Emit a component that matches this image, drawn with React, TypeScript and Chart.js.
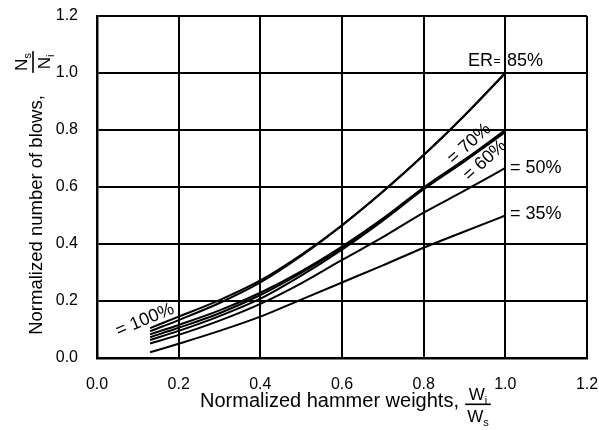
import React, { useEffect, useRef } from "react";
import { Chart, registerables } from "chart.js";

Chart.register(...registerables);

// ---- data ----
const xValues = [0.13, 0.2, 0.3, 0.4, 0.5, 0.6, 0.7, 0.8, 0.9, 1.0];
const er100 = [0.105, 0.145, 0.203, 0.272, 0.362, 0.466, 0.584, 0.712, 0.851, 1.0];
const er85 = [0.094, 0.133, 0.193, 0.265, 0.358, 0.465, 0.583, 0.712, 0.851, 1.0];
const er70 = [0.083, 0.116, 0.167, 0.229, 0.304, 0.391, 0.489, 0.598, 0.696, 0.8];
const er60 = [0.073, 0.106, 0.157, 0.221, 0.299, 0.386, 0.486, 0.595, 0.693, 0.796];
const er60b = [0.063, 0.095, 0.147, 0.208, 0.289, 0.38, 0.482, 0.592, 0.69, 0.792];
const er50 = [0.051, 0.081, 0.131, 0.19, 0.262, 0.344, 0.424, 0.51, 0.587, 0.667];
const er35 = [0.02, 0.05, 0.095, 0.145, 0.205, 0.265, 0.325, 0.387, 0.444, 0.5];
const seriesNames = ["100%", "85%", "70%", "60%", "60% (b)", "50%", "35%"];
const seriesValues = [er100, er85, er70, er60, er60b, er50, er35];
const xTickLabels = ["0.0", "0.2", "0.4", "0.6", "0.8", "1.0", "1.2"];
const yTickLabels = ["0.0", "0.2", "0.4", "0.6", "0.8", "1.0", "1.2"];

// curve labels (anchor in data units)
const curveLabels = [
  { text: "= 100%", x: 0.1176, y: 0.1333, angle: -22.6, align: "center" },
  { text: "= 70%", x: 0.9115, y: 0.7516, angle: -42, align: "center" },
  { text: "= 60%", x: 0.9502, y: 0.693, angle: -42, align: "center" },
  { text: "= 50%", x: 1.0114, y: 0.6667, angle: 0, align: "left" },
  { text: "= 35%", x: 1.0114, y: 0.505, angle: 0, align: "left" },
];
const erLabel = { er: "ER", eq: "=", pct: "85%", xEr: 0.9086, xEq: 0.9796, xPct: 1.0041, y: 1.0432 };

const FONT = "'Liberation Sans', Arial, Helvetica, sans-serif";

function drawFrac(
  ctx: CanvasRenderingContext2D,
  cx: number,
  barY: number,
  numBase: number,
  denBase: number,
  num: string,
  numSub: string,
  den: string,
  denSub: string
) {
  const big = `17px ${FONT}`;
  const small = `11px ${FONT}`;
  const measure = (m: string, s: string) => {
    ctx.font = big;
    const a = ctx.measureText(m).width;
    ctx.font = small;
    const b = ctx.measureText(s).width;
    return [a, b];
  };
  const [na, nb] = measure(num, numSub);
  const [da, db] = measure(den, denSub);
  const wn = na + nb;
  const wd = da + db;
  ctx.textAlign = "left";
  ctx.textBaseline = "alphabetic";
  ctx.font = big;
  ctx.fillText(num, cx - wn / 2, numBase);
  ctx.fillText(den, cx - wd / 2, denBase);
  ctx.font = small;
  ctx.fillText(numSub, cx - wn / 2 + na, numBase + 4);
  ctx.fillText(denSub, cx - wd / 2 + da, denBase + 4);
  const bw = Math.max(wn, wd) + 4;
  ctx.fillRect(cx - bw / 2, barY - 0.8, bw, 1.6);
}

const labelPlugin = {
  id: "curveLabels",
  afterDatasetsDraw(chart: any) {
    const ctx: CanvasRenderingContext2D = chart.ctx;
    const xs = chart.scales.x;
    const ys = chart.scales.y;
    ctx.save();
    ctx.fillStyle = "#000";
    ctx.font = `18px ${FONT}`;
    for (const l of curveLabels) {
      const px = xs.getPixelForValue(l.x);
      const py = ys.getPixelForValue(l.y);
      ctx.save();
      ctx.translate(px, py);
      ctx.rotate((l.angle * Math.PI) / 180);
      ctx.textAlign = l.align as CanvasTextAlign;
      ctx.textBaseline = "middle";
      ctx.fillText(l.text, 0, 0);
      ctx.restore();
    }
    const ey = ys.getPixelForValue(erLabel.y);
    ctx.textBaseline = "middle";
    ctx.textAlign = "left";
    ctx.font = `18px ${FONT}`;
    ctx.fillText(erLabel.er, xs.getPixelForValue(erLabel.xEr), ey);
    ctx.fillText(erLabel.pct, xs.getPixelForValue(erLabel.xPct), ey);
    ctx.font = `12px ${FONT}`;
    ctx.textAlign = "center";
    ctx.fillText(erLabel.eq, xs.getPixelForValue(erLabel.xEq), ey + 1);
    ctx.restore();
  },
  afterDraw(chart: any) {
    const ctx: CanvasRenderingContext2D = chart.ctx;
    ctx.save();
    ctx.fillStyle = "#000";
    // x axis title
    ctx.font = `20px ${FONT}`;
    ctx.textAlign = "left";
    ctx.textBaseline = "alphabetic";
    ctx.fillText("Normalized hammer weights,", 200, 406.5);
    drawFrac(ctx, 478, 404.3, 400, 421.5, "W", "i", "W", "s");
    // y axis title
    ctx.save();
    ctx.translate(42, 215);
    ctx.rotate(-Math.PI / 2);
    ctx.font = `18.5px ${FONT}`;
    ctx.textAlign = "center";
    ctx.textBaseline = "alphabetic";
    ctx.fillText("Normalized number of blows,", 0, 0);
    drawFrac(ctx, 153, -9, -15, 8, "N", "s", "N", "i");
    ctx.restore();
    ctx.restore();
  },
};

export default function App() {
  const ref = useRef<HTMLCanvasElement | null>(null);
  useEffect(() => {
    document.body.style.margin = "0";
    const canvas = ref.current;
    if (!canvas) return;
    const datasets = seriesValues.map((vals, i) => ({
      label: seriesNames[i],
      data: xValues.map((x, j) => ({ x, y: vals[j] })),
      borderColor: "#000",
      backgroundColor: "#000",
      borderWidth: 2,
      pointRadius: 0,
      cubicInterpolationMode: "monotone" as const,
      fill: false,
    }));
    const chart = new Chart(canvas, {
      type: "line",
      data: { datasets },
      options: {
        responsive: false,
        animation: false,
        devicePixelRatio: 1,
        layout: { padding: { left: 0, right: 12, top: 16, bottom: 0 } },
        plugins: { legend: { display: false }, tooltip: { enabled: false } },
        scales: {
          x: {
            type: "linear",
            min: 0,
            max: 1.2,
            ticks: {
              stepSize: 0.2,
              padding: 17,
              color: "#000",
              font: { family: FONT, size: 16 },
              callback: (v: any) => xTickLabels[Math.round(Number(v) / 0.2)] ?? "",
            },
            grid: { color: "#000", lineWidth: 2, drawTicks: false },
            border: { color: "#000", width: 2.5 },
            afterFit: (s: any) => {
              s.height = 72;
              s.paddingLeft = 0;
              s.paddingRight = 0;
            },
          },
          y: {
            type: "linear",
            min: 0,
            max: 1.2,
            ticks: {
              stepSize: 0.2,
              padding: 19,
              color: "#000",
              font: { family: FONT, size: 16 },
              callback: (v: any) => yTickLabels[Math.round(Number(v) / 0.2)] ?? "",
            },
            grid: { color: "#000", lineWidth: 2, drawTicks: false },
            border: { color: "#000", width: 2.5 },
            afterFit: (s: any) => {
              s.width = 97;
              s.paddingTop = 0;
              s.paddingBottom = 0;
            },
          },
        },
      },
      plugins: [labelPlugin],
    });
    return () => chart.destroy();
  }, []);
  return (
    <div style={{ width: 599, height: 430, background: "#fff" }}>
      <canvas ref={ref} width={599} height={430} style={{ display: "block" }} />
    </div>
  );
}
